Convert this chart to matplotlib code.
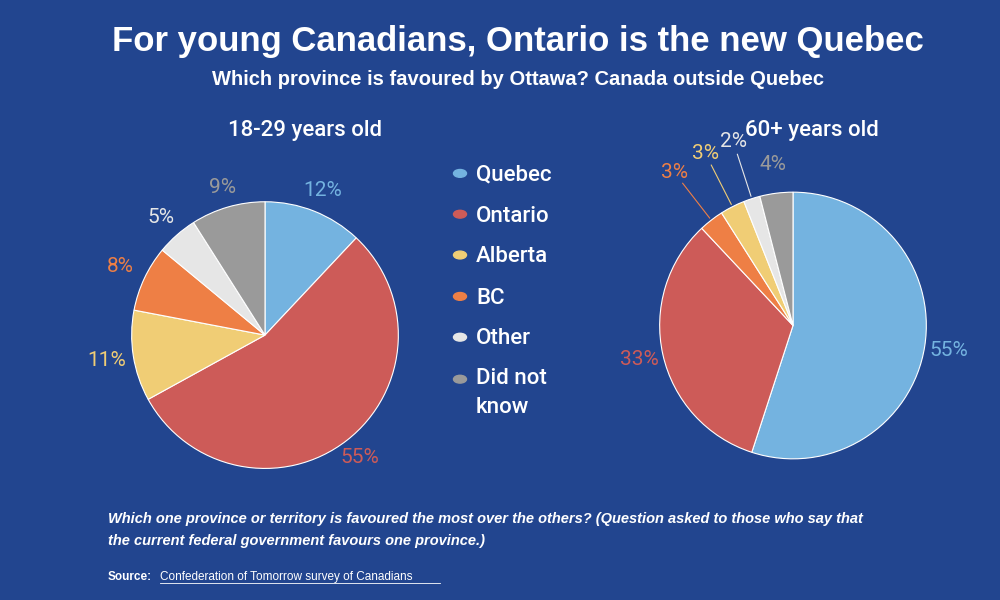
import numpy as np
import matplotlib.pyplot as plt

bg = '#22458f'
categories = ['Quebec', 'Ontario', 'Alberta', 'BC', 'Other', 'Did not\nknow']
colors = {'Quebec': '#74b3e0', 'Ontario': '#cd5b58', 'Alberta': '#f0cd75',
          'BC': '#ee7f45', 'Other': '#e6e6e6', 'Did not\nknow': '#9a9a9a'}

young_labels = ['Quebec', 'Ontario', 'Alberta', 'BC', 'Other', 'Did not\nknow']
young_vals = [12, 55, 11, 8, 5, 9]
old_labels = ['Quebec', 'Ontario', 'BC', 'Alberta', 'Other', 'Did not\nknow']
old_vals = [55, 33, 3, 3, 2, 4]

fig = plt.figure(figsize=(10, 6), dpi=100, facecolor=bg)
plt.rcParams['font.family'] = ['Liberation Sans', 'DejaVu Sans']

fig.text(0.518, 0.93, 'For young Canadians, Ontario is the new Quebec', ha='center', va='center',
         color='white', fontsize=25, fontweight='bold')
fig.text(0.518, 0.868, 'Which province is favoured by Ottawa? Canada outside Quebec', ha='center',
         va='center', color='white', fontsize=14.5, fontweight='bold')


def draw_pie(rect, labels, vals, label_r):
    ax = fig.add_axes(rect)
    ax.set_facecolor(bg)
    cols = [colors[l] for l in labels]
    wedges, _ = ax.pie(vals, colors=cols, startangle=90, counterclock=False,
                       wedgeprops=dict(edgecolor='white', linewidth=0.8))
    for w, v, c, r in zip(wedges, vals, cols, label_r):
        ang = np.deg2rad((w.theta1 + w.theta2) / 2)
        x, y = r * np.cos(ang), r * np.sin(ang)
        ax.text(x, y, f'{v}%', color=c, fontsize=15, ha='center', va='center', family='Roboto')
        if r > 1.25:
            ax.plot([1.02 * np.cos(ang), (r - 0.1) * np.cos(ang)],
                    [1.02 * np.sin(ang), (r - 0.1) * np.sin(ang)], color=c, lw=0.8, clip_on=False)
    ax.set_xlim(-1.05, 1.05)
    ax.set_ylim(-1.05, 1.05)
    ax.set_aspect('equal')
    return ax


draw_pie([0.125, 0.208, 0.28, 0.467], young_labels, young_vals, [1.17, 1.16, 1.2, 1.2, 1.18, 1.15])
draw_pie([0.653, 0.224, 0.28, 0.467], old_labels, old_vals, [1.18, 1.18, 1.45, 1.45, 1.45, 1.22])

fig.text(0.305, 0.782, '18-29 years old', ha='center', va='center', color='white', fontsize=16,
         family='Roboto', fontweight='medium')
fig.text(0.812, 0.782, '60+ years old', ha='center', va='center', color='white', fontsize=16,
         family='Roboto', fontweight='medium')

# legend
ys = [0.708, 0.64, 0.572, 0.503, 0.435, 0.365]
for cat, y in zip(categories, ys):
    fig.patches.append(plt.Circle((0.46, y + 0.003), 0.0065, transform=fig.transFigure,
                                  color=colors[cat], figure=fig))
    two = '\n' in cat
    fig.text(0.476, y + (0.022 if two else 0), cat, color='white', fontsize=16, family='Roboto',
             fontweight='medium', va='top' if two else 'center', linespacing=1.5)

fig.text(0.108, 0.117, 'Which one province or territory is favoured the most over the others? (Question asked to those who say that\nthe current federal government favours one province.)',
         color='white', fontsize=10.5, fontweight='bold', style='italic', va='center', linespacing=1.7)
fig.text(0.108, 0.038, 'Source:', color='white', fontsize=8.5, fontweight='bold', va='center')
fig.text(0.16, 0.038, 'Confederation of Tomorrow survey of Canadians', color='white', fontsize=8.5,
         va='center')
fig.add_artist(plt.Line2D([0.16, 0.44], [0.028, 0.028], color='white', lw=0.6))

fig.savefig('out.png', facecolor=bg)
